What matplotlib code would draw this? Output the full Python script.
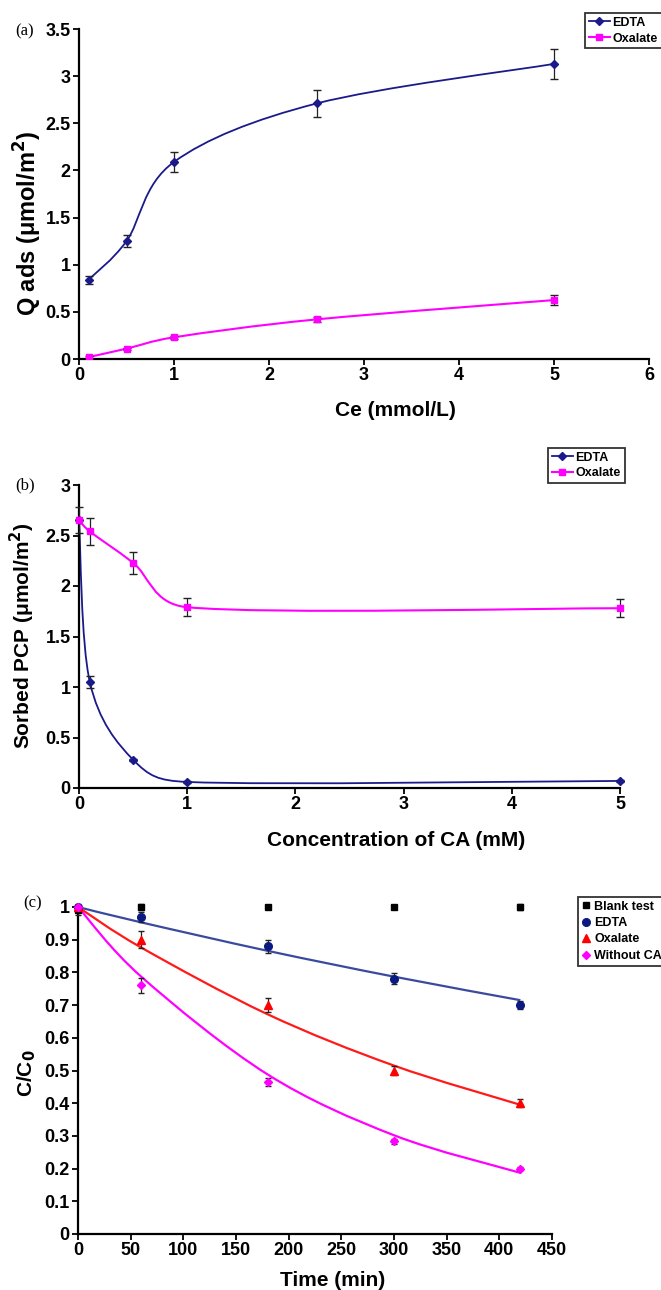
import numpy as np
import matplotlib
matplotlib.use('Agg')
import matplotlib.pyplot as plt
from matplotlib.path import Path
from matplotlib.patches import PathPatch
from matplotlib.lines import Line2D

plt.rcParams['font.family'] = ['Liberation Sans', 'DejaVu Sans']
plt.rcParams['font.weight'] = 'bold'

# (a) adsorption of complexing agents
ce = [0.1, 0.5, 1, 2.5, 5]
q_edta = [0.84, 1.25, 2.09, 2.71, 3.13]
q_edta_err = [0.04, 0.06, 0.105, 0.14, 0.155]
q_oxa = [0.02, 0.11, 0.23, 0.42, 0.625]
q_oxa_err = [0.01, 0.01, 0.015, 0.03, 0.055]

# (b) sorbed PCP vs CA concentration
ca = [0, 0.1, 0.5, 1, 5]
pcp_edta = [2.65, 1.05, 0.28, 0.06, 0.07]
pcp_edta_err = [0.13, 0.06, 0.01, 0.01, 0.01]
pcp_oxa = [2.65, 2.54, 2.23, 1.79, 1.78]
pcp_oxa_err = [0.0, 0.13, 0.11, 0.09, 0.09]

# (c) kinetics
t = [0, 60, 180, 300, 420]
c_blank = [0.99, 1.0, 1.0, 1.0, 1.0]
c_blank_err = [0.015, 0.01, 0.005, 0.007, 0.01]
c_edta = [1.0, 0.97, 0.88, 0.78, 0.70]
c_edta_err = [0.0, 0.015, 0.02, 0.017, 0.013]
c_oxa = [1.0, 0.90, 0.70, 0.50, 0.40]
c_oxa_err = [0.0, 0.026, 0.022, 0.015, 0.012]
c_noca = [1.0, 0.76, 0.465, 0.283, 0.20]
c_noca_err = [0.0, 0.023, 0.013, 0.007, 0.005]
# fitted curves at the same times
fit_edta = [1.0, 0.953, 0.866, 0.787, 0.715]
fit_oxa = [1.0, 0.876, 0.672, 0.515, 0.395]
fit_noca = [1.0, 0.787, 0.488, 0.302, 0.187]

NAVY = '#1a1a8a'
MAG = '#ff00ff'
W, H = 661, 1290


def smooth(ax, xs, ys, color, lw):
    # excel style smoothed line, bezier built in screen space
    pts = ax.transData.transform(np.column_stack([xs, ys]))
    n = len(pts)
    verts = [pts[0]]
    codes = [Path.MOVETO]
    for i in range(n - 1):
        a, b = pts[i], pts[i + 1]
        seg = np.hypot(*(b - a))
        v1 = (pts[i + 1] - pts[max(i - 1, 0)]) / 6
        v2 = (pts[min(i + 2, n - 1)] - pts[i]) / 6
        # keep control points from overshooting on uneven spacing
        for v in (v1, v2):
            ln = np.hypot(*v)
            if ln > 0.5 * seg:
                v *= 0.5 * seg / ln
        verts += [a + v1, b - v2, b]
        codes += [Path.CURVE4] * 3
    dverts = ax.transData.inverted().transform(np.array(verts))
    ax.add_patch(PathPatch(Path(dverts, codes), facecolor='none', edgecolor=color,
                           lw=lw, zorder=2))


def px_axes(l, t, r, b):
    return fig.add_axes([l / W, 1 - b / H, (r - l) / W, (b - t) / H])


def style(ax):
    for s in ['top', 'right']:
        ax.spines[s].set_visible(False)
    for s in ['left', 'bottom']:
        ax.spines[s].set_linewidth(1.6)
    ax.tick_params(direction='out', length=4, width=1.3, labelsize=13, pad=2)
    for lab in ax.get_xticklabels() + ax.get_yticklabels():
        lab.set_fontweight('bold')


def ftext(x, y, s, **kw):
    fig.text(x / W, 1 - y / H, s, ha='center', va='center', **kw)


fig = plt.figure(figsize=(W / 100, H / 100), dpi=100)

# ---------- (a) ----------
ax = px_axes(79, 29, 649, 359)
ax.set_xlim(0, 6)
ax.set_ylim(0, 3.5)
smooth(ax, ce, q_edta, NAVY, 1.3)
smooth(ax, ce, q_oxa, MAG, 1.5)
ax.errorbar(ce, q_edta, yerr=q_edta_err, fmt='none', ecolor='#222222', elinewidth=0.9, capsize=3, zorder=3)
ax.errorbar(ce, q_oxa, yerr=q_oxa_err, fmt='none', ecolor='#222222', elinewidth=0.9, capsize=3, zorder=3)
ax.plot(ce, q_edta, ls='none', marker='D', ms=4, color=NAVY, zorder=4)
ax.plot(ce, q_oxa, ls='none', marker='s', ms=5, color=MAG, zorder=4)
ax.set_xticks(range(0, 7))
ax.set_yticks(np.arange(0, 3.51, 0.5))
ax.set_yticklabels(['0', '0.5', '1', '1.5', '2', '2.5', '3', '3.5'])
style(ax)
hand = [Line2D([], [], color=NAVY, marker='D', ms=4, lw=1.3),
        Line2D([], [], color=MAG, marker='s', ms=5, lw=1.5)]
leg = fig.legend(hand, ['EDTA', 'Oxalate'], loc='upper left', bbox_to_anchor=(585 / W, 1 - 13 / H),
                 prop={'size': 9, 'weight': 'bold'}, frameon=True, fancybox=False,
                 edgecolor='black', borderpad=0.3, labelspacing=0.3, handlelength=1.7,
                 handletextpad=0.2, borderaxespad=0)
leg.get_frame().set_linewidth(1.3)
ftext(395, 410, 'Ce (mmol/L)', fontsize=15, fontweight='bold')
ftext(28, 223, 'Q ads (μmol/m$^\\mathbf{2}$)', fontsize=17, fontweight='bold', rotation=90)
ftext(25, 31, '(a)', fontsize=12, family='Liberation Serif', fontweight='normal')

# ---------- (b) ----------
ax = px_axes(79, 485, 620, 788)
ax.set_xlim(0, 5)
ax.set_ylim(0, 3)
smooth(ax, ca, pcp_edta, NAVY, 1.3)
smooth(ax, ca, pcp_oxa, MAG, 1.5)
ax.errorbar(ca, pcp_edta, yerr=pcp_edta_err, fmt='none', ecolor='#222222', elinewidth=0.9, capsize=3, zorder=3, clip_on=False)
ax.errorbar(ca, pcp_oxa, yerr=pcp_oxa_err, fmt='none', ecolor='#222222', elinewidth=0.9, capsize=3, zorder=3, clip_on=False)
ax.plot(ca, pcp_edta, ls='none', marker='D', ms=4, color=NAVY, zorder=4, clip_on=False)
ax.plot(ca, pcp_oxa, ls='none', marker='s', ms=5, color=MAG, zorder=4, clip_on=False)
ax.set_xticks(range(0, 6))
ax.set_yticks(np.arange(0, 3.01, 0.5))
ax.set_yticklabels(['0', '0.5', '1', '1.5', '2', '2.5', '3'])
style(ax)
leg = fig.legend(hand, ['EDTA', 'Oxalate'], loc='upper left', bbox_to_anchor=(548 / W, 1 - 448 / H),
                 prop={'size': 9, 'weight': 'bold'}, frameon=True, fancybox=False,
                 edgecolor='black', borderpad=0.3, labelspacing=0.3, handlelength=1.7,
                 handletextpad=0.2, borderaxespad=0)
leg.get_frame().set_linewidth(1.3)
ftext(396, 840, 'Concentration of CA (mM)', fontsize=15, fontweight='bold')
ftext(22, 636, 'Sorbed PCP (μmol/m$^\\mathbf{2}$)', fontsize=15, fontweight='bold', rotation=90)
ftext(25, 485, '(b)', fontsize=12, family='Liberation Serif', fontweight='normal')

# ---------- (c) ----------
ax = px_axes(78, 907, 552, 1234)
ax.set_xlim(0, 450)
ax.set_ylim(0, 1)
smooth(ax, t, fit_edta, '#3a4a9e', 1.6)
smooth(ax, t, fit_oxa, '#ff1a1a', 1.6)
smooth(ax, t, fit_noca, MAG, 1.6)
for yy, ee in [(c_blank, c_blank_err), (c_edta, c_edta_err), (c_oxa, c_oxa_err), (c_noca, c_noca_err)]:
    ax.errorbar(t, yy, yerr=ee, fmt='none', ecolor='#222222', elinewidth=0.9, capsize=2.5, zorder=3, clip_on=False)
ax.plot(t, c_blank, ls='none', marker='s', ms=4.5, color='black', zorder=4, clip_on=False)
ax.plot(t, c_edta, ls='none', marker='o', ms=5.5, color='#0a1a80', zorder=4, clip_on=False)
ax.plot(t, c_oxa, ls='none', marker='^', ms=5.5, color='red', zorder=4, clip_on=False)
ax.plot(t, c_noca, ls='none', marker='D', ms=4, color=MAG, zorder=4, clip_on=False)
ax.set_xticks(range(0, 451, 50))
ax.set_yticks(np.arange(0, 1.01, 0.1))
ax.set_yticklabels(['0', '0.1', '0.2', '0.3', '0.4', '0.5', '0.6', '0.7', '0.8', '0.9', '1'])
style(ax)
hand_c = [Line2D([], [], ls='none', marker='s', ms=4.5, color='black'),
          Line2D([], [], ls='none', marker='o', ms=5.5, color='#0a1a80'),
          Line2D([], [], ls='none', marker='^', ms=5.5, color='red'),
          Line2D([], [], ls='none', marker='D', ms=4, color=MAG)]
leg = fig.legend(hand_c, ['Blank test', 'EDTA', 'Oxalate', 'Without CA'], loc='upper left',
                 bbox_to_anchor=(578 / W, 1 - 897 / H), prop={'size': 9, 'weight': 'bold'},
                 frameon=True, fancybox=False, edgecolor='black', borderpad=0.3,
                 labelspacing=0.35, handlelength=0.6, handletextpad=0.4, borderaxespad=0)
leg.get_frame().set_linewidth(1.3)
ftext(333, 1280, 'Time (min)', fontsize=15, fontweight='bold')
ftext(27, 1073, 'C/C$_\\mathbf{0}$', fontsize=15, fontweight='bold', rotation=90)
ftext(33, 903, '(c)', fontsize=12, family='Liberation Serif', fontweight='normal')

fig.savefig('out.png', dpi=100)
